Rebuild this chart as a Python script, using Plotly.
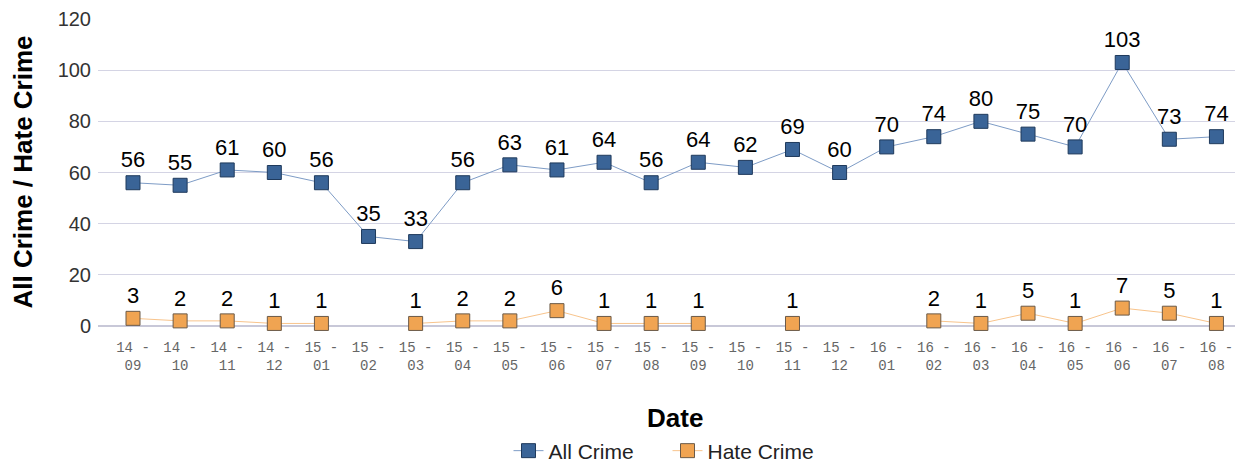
import plotly.graph_objects as go

months = ["14-09","14-10","14-11","14-12","15-01","15-02","15-03","15-04","15-05","15-06",
          "15-07","15-08","15-09","15-10","15-11","15-12","16-01","16-02","16-03","16-04",
          "16-05","16-06","16-07","16-08"]
all_crime = [56,55,61,60,56,35,33,56,63,61,64,56,64,62,69,60,70,74,80,75,70,103,73,74]
hate_crime = [3,2,2,1,1,None,1,2,2,6,1,1,1,None,1,None,None,2,1,5,1,7,5,1]

tick_text = [m.replace("-", " -<br>") for m in months]

label_font = dict(family="Liberation Sans, Arial", size=22, color="#000")

fig = go.Figure()
fig.add_trace(go.Scatter(
    x=months, y=all_crime, name="All Crime", mode="lines+markers+text",
    line=dict(color="#7e9cc6", width=1),
    marker=dict(symbol="square", size=14, color="#3a6497", line=dict(color="#1f3a5c", width=1)),
    text=[str(v) for v in all_crime], textposition="top center",
    textfont=label_font, cliponaxis=False,
))
fig.add_trace(go.Scatter(
    x=months, y=hate_crime, name="Hate Crime", mode="lines+markers+text",
    line=dict(color="#f8c48c", width=1), connectgaps=False,
    marker=dict(symbol="square", size=14, color="#f0a452", line=dict(color="#6b5a48", width=1)),
    text=["" if v is None else str(v) for v in hate_crime], textposition="top center",
    textfont=label_font, cliponaxis=False,
))

# page body has an 8px margin, so the figure is sized/positioned to compensate
fig.update_layout(
    width=1235, height=456,
    margin=dict(l=90, r=3, t=11, b=138, autoexpand=False),
    paper_bgcolor="white", plot_bgcolor="white",
    showlegend=True,
    legend=dict(orientation="h", x=0.4987, xanchor="center",
                yref="container", y=0.0285, yanchor="middle",
                font=dict(family="Liberation Sans, Arial", size=21, color="#222"),
                entrywidth=114, entrywidthmode="pixels"),
    font=dict(family="Liberation Sans, Arial"),
    annotations=[
        dict(text="<b>All Crime / Hate Crime</b>", xref="paper", yref="paper",
             x=-0.0665, y=0.5, xanchor="center", yanchor="middle", textangle=-90,
             showarrow=False, font=dict(size=26, color="#000")),
        dict(text="<b>Date</b>", xref="paper", yref="paper",
             x=0.505, y=-0.30, xanchor="center", yanchor="middle",
             showarrow=False, font=dict(size=26, color="#000")),
    ],
)
fig.update_xaxes(
    type="category", tickmode="array", tickvals=months, ticktext=tick_text,
    range=[-0.743, 23.5], automargin=False,
    tickfont=dict(family="Liberation Mono, Courier New, monospace", size=14, color="#666"),
    ticks="outside", ticklen=8, tickcolor="rgba(0,0,0,0)",
    showgrid=False, showline=False,
)
fig.update_yaxes(
    range=[0, 120], tickvals=[0, 20, 40, 60, 80, 100, 120], automargin=False,
    showgrid=True, gridcolor="#d4d4e4", gridwidth=1, zeroline=True, zerolinecolor="#c8c8d8", zerolinewidth=2,
    tickfont=dict(size=20, color="#333"), ticks="outside", ticklen=2, tickcolor="white",
)

fig.write_html("out.html")
